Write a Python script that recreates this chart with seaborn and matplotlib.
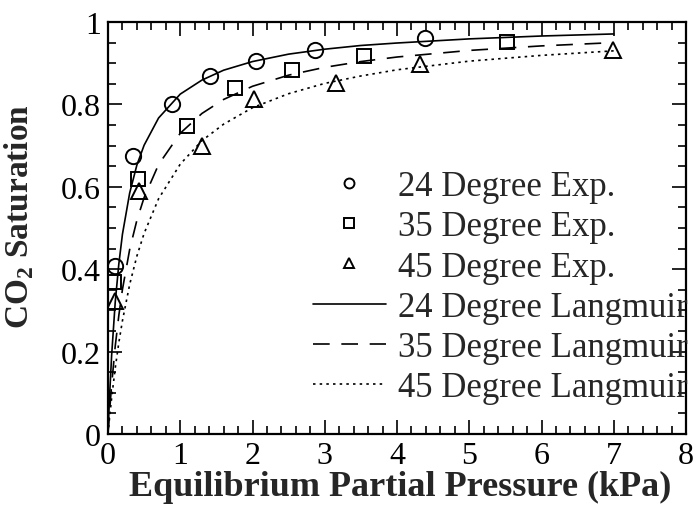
import matplotlib
matplotlib.use("Agg")
import matplotlib.pyplot as plt
import seaborn as sns
import pandas as pd
from matplotlib.ticker import MultipleLocator

p24 = [0.10, 0.34, 0.88, 1.41, 2.05, 2.87, 4.39]
s24 = [0.408, 0.675, 0.800, 0.870, 0.905, 0.933, 0.960]

p35 = [0.08, 0.41, 1.10, 1.76, 2.54, 3.55, 5.52]
s35 = [0.370, 0.620, 0.748, 0.840, 0.883, 0.918, 0.951]

p45 = [0.10, 0.43, 1.30, 2.02, 3.16, 4.32, 6.99]
s45 = [0.323, 0.590, 0.700, 0.813, 0.853, 0.898, 0.933]

# ---- Langmuir curves ----
pl = [0, 0.02, 0.05, 0.1, 0.15, 0.2, 0.3, 0.4, 0.5, 0.7, 1.0, 1.3, 1.6,
      2.0, 2.5, 3.0, 3.5, 4.0, 5.0, 6.0, 7.0]
l24 = [0, 0.086, 0.190, 0.320, 0.413, 0.485, 0.585, 0.653, 0.701, 0.767,
       0.825, 0.859, 0.883, 0.904, 0.922, 0.934, 0.943, 0.949, 0.959, 0.966, 0.971]
l35 = [0, 0.051, 0.119, 0.213, 0.288, 0.351, 0.448, 0.519, 0.574, 0.654,
       0.730, 0.778, 0.812, 0.844, 0.871, 0.890, 0.904, 0.915, 0.931, 0.942, 0.950]
l45 = [0, 0.037, 0.087, 0.160, 0.222, 0.275, 0.363, 0.432, 0.487, 0.571,
       0.655, 0.712, 0.752, 0.792, 0.826, 0.851, 0.869, 0.884, 0.905, 0.919, 0.930]

exp_labels = ["24 Degree Exp.", "35 Degree Exp.", "45 Degree Exp."]
lang_labels = ["24 Degree Langmuir", "35 Degree Langmuir", "45 Degree Langmuir"]

sns.set_theme(style="ticks")
plt.rcParams['font.family'] = ['Liberation Serif', 'DejaVu Serif']
plt.rcParams['mathtext.fontset'] = 'custom'
plt.rcParams['mathtext.rm'] = 'Liberation Serif:bold'
plt.rcParams['mathtext.bf'] = 'Liberation Serif:bold'

fig = plt.figure(figsize=(7.0, 5.06), dpi=100)
ax = fig.add_axes([108/700, 1-435/506, (686-108)/700, (435-23)/506])

markers = ["o", "s", "^"]
for (px, sy), m, lab in zip([(p24, s24), (p35, s35), (p45, s45)], markers, exp_labels):
    df = pd.DataFrame({"P": px, "S": sy})
    sns.lineplot(data=df, x="P", y="S", ax=ax, linestyle="none", marker=m,
                 markersize=11 if m != "s" else 10, markerfacecolor="none",
                 markeredgecolor="black", markeredgewidth=1.4, color="black",
                 label=lab, sort=False, estimator=None)

styles = ["-", (0, (10, 7)), (0, (1.5, 2.5))]
for ly, st, lab in zip([l24, l35, l45], styles, lang_labels):
    df = pd.DataFrame({"P": pl, "S": ly})
    sns.lineplot(data=df, x="P", y="S", ax=ax, color="black", linewidth=1.2,
                 linestyle=st, label=lab, sort=False, estimator=None)

ax.set_xlim(0, 8)
ax.set_ylim(0, 1)
ax.xaxis.set_major_locator(MultipleLocator(1))
ax.xaxis.set_minor_locator(MultipleLocator(0.2))
ax.yaxis.set_major_locator(MultipleLocator(0.2))
ax.yaxis.set_minor_locator(MultipleLocator(0.05))


def yfmt(v, p):
    r = round(v, 2)
    if abs(r) < 1e-9:
        return "0"
    if abs(r - 1) < 1e-9:
        return "1"
    return f"{r:.1f}"


ax.yaxis.set_major_formatter(plt.FuncFormatter(yfmt))

ax.tick_params(which="both", direction="in", top=True, right=True,
               labelsize=23, colors="black", width=1.2)
ax.tick_params(which="major", length=10, pad=5)
ax.tick_params(which="minor", length=6)
for sp in ax.spines.values():
    sp.set_linewidth(1.6)
    sp.set_color("black")

ax.set_xlabel("Equilibrium Partial Pressure (kPa)", fontsize=26, fontweight="bold")
ax.xaxis.set_label_coords(0.505, -0.088)
ax.set_ylabel(r"CO$_2$ Saturation", fontsize=24, fontweight="bold")
ax.yaxis.set_label_coords(-0.124, 0.53)

handles, labels = ax.get_legend_handles_labels()
leg = ax.legend(handles, labels, loc="upper left", bbox_to_anchor=(313/700, 1-171/506),
                bbox_transform=fig.transFigure, frameon=False, fontsize=25,
                borderpad=0, borderaxespad=0, labelspacing=0.21, handlelength=2.1,
                handletextpad=0.35, markerscale=0.65)
leg.set_zorder(5)

fig.savefig("out.png", dpi=100)
